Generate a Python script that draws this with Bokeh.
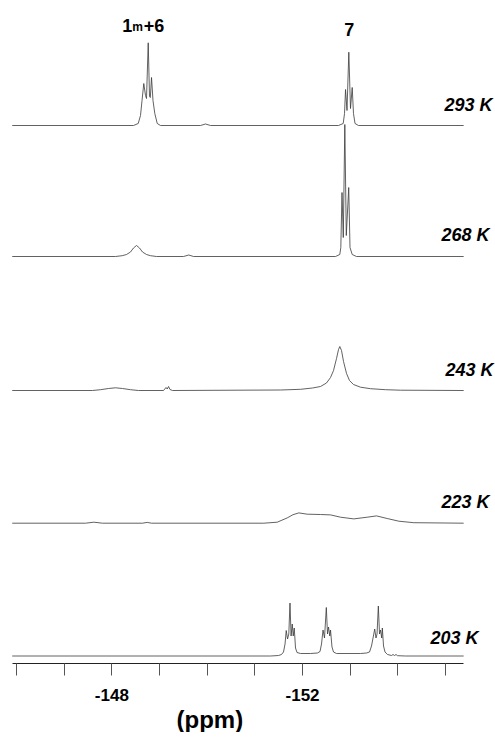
from bokeh.plotting import figure
from bokeh.models import Range1d, FixedTicker, Title
from bokeh.core.properties import value
from bokeh.embed import file_html
from bokeh.resources import INLINE

# ---- data (chemical shift in ppm, intensity in arbitrary units) ----
temperatures = ["293 K", "268 K", "243 K", "223 K", "203 K"]
stack_offsets = [538, 407, 273, 140.3, 7.5]

ppm_293 = [-145.91, -148.454, -148.553, -148.601, -148.633, -148.670, -148.706, -148.727, -148.763,
           -148.790, -148.807, -148.832, -148.863, -148.901, -148.952, -149.021, -149.86, -149.965,
           -150.07, -152.755, -152.853, -152.881, -152.902, -152.933, -152.971, -153.006, -153.042,
           -153.069, -153.101, -153.174, -155.38]
int_293 = [0, 0, 2, 10, 25, 42, 30, 27, 82.7, 29, 28, 48, 25, 12, 2, 0, 0, 1.5, 0, 0, 2, 12, 36, 15,
           73.3, 17, 38, 12, 2, 0, 0]

ppm_268 = [-145.91, -148.077, -148.217, -148.308, -148.391, -148.454, -148.517, -148.580, -148.643,
           -148.727, -148.811, -148.937, -149.503, -149.614, -149.713, -152.692, -152.782, -152.803,
           -152.828, -152.855, -152.887, -152.918, -152.969, -152.996, -153.042, -153.132, -155.38]
int_268 = [0, 0, 0.8, 2, 4.5, 8.5, 11, 8.5, 4.5, 2, 0.8, 0, 0, 1.5, 0, 0, 2, 9, 64, 19, 132, 21, 69,
           9, 2, 0, 0]

ppm_243 = [-145.91, -147.594, -147.762, -147.930, -148.077, -148.224, -148.391, -148.559, -149.084,
           -149.136, -149.161, -149.189, -149.220, -149.273, -151.538, -151.958, -152.209, -152.377,
           -152.503, -152.587, -152.650, -152.713, -152.755, -152.782, -152.818, -152.860, -152.923,
           -152.985, -153.069, -153.216, -153.426, -153.741, -154.055, -155.38]
int_243 = [0, 0, 0.8, 2, 2.7, 2, 0.8, 0, 0, 3, 1.5, 4, 1, 0, 0.5, 1.2, 2.5, 4, 7.5, 13, 20, 32, 41,
           44, 40, 29, 17, 10, 6, 3.3, 1.8, 0.8, 0.3, 0]

ppm_223 = [-145.91, -147.447, -147.622, -147.804, -148.643, -148.742, -148.832, -151.188, -151.469,
           -151.679, -151.80, -151.922, -152.098, -152.377, -152.587, -152.797, -153.076, -153.357,
           -153.552, -153.776, -154.020, -154.334, -155.38]
int_223 = [0, 0, 1, 0, 0, 0.8, 0, 0, 1, 5.3, 8.5, 10.3, 9, 8.7, 8.3, 6, 4.3, 6, 7.3, 4.7, 2, 0.5, 0]

ppm_203 = [-145.91, -151.328, -151.496, -151.559, -151.601, -151.633, -151.658, -151.685, -151.712,
           -151.737, -151.760, -151.784, -151.805, -151.826, -151.853, -151.884, -151.958, -152.167,
           -152.314, -152.367, -152.398, -152.430, -152.461, -152.499, -152.524, -152.545, -152.572,
           -152.587, -152.618, -152.650, -152.713, -153.216, -153.342, -153.405, -153.447, -153.479,
           -153.514, -153.541, -153.563, -153.590, -153.615, -153.636, -153.661, -153.674, -153.699,
           -153.730, -153.783, -153.867, -153.898, -153.930, -153.961, -153.993, -154.160, -155.38]
int_203 = [0, 0, 0.5, 1.5, 4, 12, 25.5, 17, 22, 53, 20, 32, 20, 28, 8, 3.5, 2.5, 2.5, 3, 4.5, 12, 26,
           18, 48.5, 22, 29, 20, 26, 9, 4, 2.5, 2.5, 3, 4, 10, 18, 27, 18, 22, 50, 22, 26, 18, 28, 10,
           4, 1.5, 0.5, 1.5, 0.5, 1.5, 0.3, 0, 0]

spectra_ppm = [ppm_293, ppm_268, ppm_243, ppm_223, ppm_203]
spectra_int = [int_293, int_268, int_243, int_223, int_203]

peak_labels = ["1m+6", "7"]
peak_label_ppm = [-148.763, -152.971]

major_ticks = [-148, -152]
minor_ticks = [-146, -147, -149, -150, -151, -153, -154, -155]
axis_title = "(ppm)"

# ---- figure ----
FONT = "Liberation Sans"
X0, X1 = -145.664, -156.048
p = figure(frame_width=495, frame_height=663, output_backend="svg", toolbar_location=None,
           x_range=Range1d(X0, X1), y_range=Range1d(0, 663),
           y_axis_location=None, min_border=0)
p.outline_line_color = None
p.xgrid.visible = False
p.ygrid.visible = False
p.background_fill_color = "white"
p.border_fill_color = "white"

for xs, ys, off in zip(spectra_ppm, spectra_int, stack_offsets):
    p.line(xs, [v + off for v in ys], line_color="#3a3a3a", line_width=0.8)

# temperature labels
label_lift = [21, 22, 21, 21.5, 18.5]
label_dx = [-3, -6, -2, -6, -17]
p.text(x=[X1] * 5, y=[o + l for o, l in zip(stack_offsets, label_lift)], text=temperatures,
       x_offset=label_dx, text_align="right", text_baseline="alphabetic",
       text_font=value(FONT), text_font_size="18px", text_font_style="bold italic",
       text_color="black")

# peak labels
y1 = stack_offsets[0] + 100.5
p.text(x=[peak_label_ppm[0]], y=[y1], text=["1"], x_offset=-26, text_align="left",
       text_baseline="alphabetic", text_font=value(FONT), text_font_size="18px",
       text_font_style="bold", text_color="black")
p.text(x=[peak_label_ppm[0]], y=[y1 - 2], text=["m"], x_offset=-16, text_align="left",
       text_baseline="alphabetic", text_font=value(FONT), text_font_size="12px",
       text_font_style="bold", text_color="black")
p.text(x=[peak_label_ppm[0]], y=[y1], text=["+6"], x_offset=-4.5, text_align="left",
       text_baseline="alphabetic", text_font=value(FONT), text_font_size="18px",
       text_font_style="bold", text_color="black")
p.text(x=[peak_label_ppm[1]], y=[stack_offsets[0] + 96], text=[peak_labels[1]], x_offset=0.5,
       text_align="center", text_baseline="alphabetic", text_font=value(FONT),
       text_font_size="18px", text_font_style="bold", text_color="black")

ax = p.xaxis[0]
ax.ticker = FixedTicker(ticks=major_ticks, minor_ticks=minor_ticks)
ax.bounds = (-155.38, -145.91)
ax.major_label_overrides = {t: "-" + str(abs(t)) for t in major_ticks}
ax.axis_line_color = "#222222"
ax.axis_line_width = 1
ax.major_tick_in = 0
ax.major_tick_out = 12
ax.minor_tick_in = 0
ax.minor_tick_out = 12
ax.major_tick_line_color = "#555555"
ax.minor_tick_line_color = "#555555"
ax.major_label_standoff = 13
ax.major_label_text_font = FONT
ax.major_label_text_font_size = "17px"
ax.major_label_text_font_style = "bold"
ax.major_label_text_color = "black"

t = Title(text=axis_title, align="left", offset=176, standoff=0,
          text_font=FONT, text_font_size="24px", text_font_style="bold", text_color="black")
p.add_layout(t, "below")

open("out.html", "w").write(file_html(p, INLINE))
